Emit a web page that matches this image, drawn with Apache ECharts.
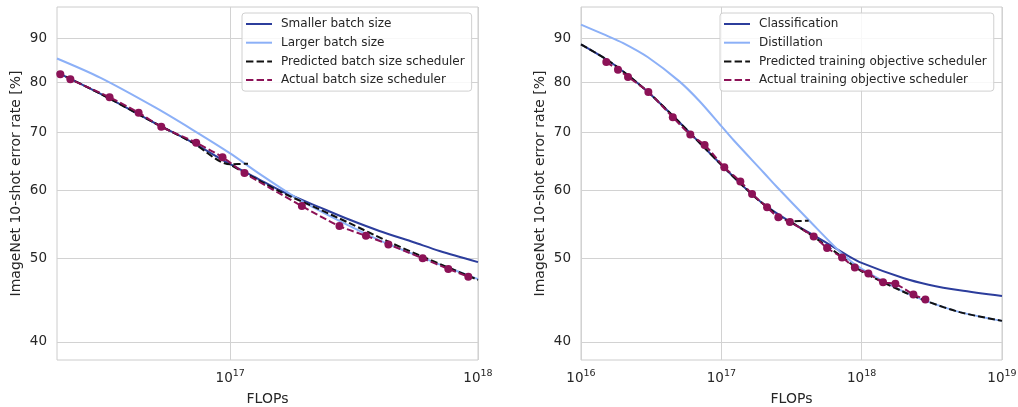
<!DOCTYPE html>
<html>
<head>
<meta charset="utf-8">
<script src="https://cdn.jsdelivr.net/npm/echarts@6/dist/echarts.min.js"></script>
<style>html,body{margin:0;padding:0;background:#fff}#c{width:1018px;height:407px}</style>
</head>
<body>
<div id="c"></div>
<script>
// ---------- Left panel: batch size ----------
const smallX = [2e16, 3e16, 5e16, 7e16, 1e17, 1.3e17, 1.6e17, 2.3e17, 3e17, 4e17, 5.5e17, 7e17, 1e18];
const smallY = [82.2, 77.6, 71.7, 68.2, 64.3, 61.8, 59.9, 57.3, 55.5, 53.8, 52.2, 51.0, 49.5];
const largeX = [2e16, 3e16, 5e16, 7e16, 1e17, 1.3e17, 1.9e17, 3e17, 4.3e17, 7e17, 1e18];
const largeY = [85.3, 81.0, 74.8, 70.6, 66.2, 62.8, 58.5, 54.6, 52.0, 49.2, 47.3];
// predicted: follows the smaller-batch curve, hops across at the switch, then continues
const predBatchX1 = [2e16, 3e16, 5e16, 7e16, 1e17, 1.18e17];
const predBatchY1 = [82.2, 77.6, 71.7, 68.2, 64.3, 64.4];
const predBatchX2 = [1.02e17, 1.3e17, 1.6e17, 2.2e17, 3e17, 4.4e17, 6e17, 1e18];
const predBatchY2 = [64.0, 61.6, 59.7, 57.3, 55.0, 52.2, 50.2, 47.2];
const actBatchLineStartX = 2e16, actBatchLineStartY = 82.1;
const actBatchX = [2.063e16, 2.265e16, 3.26e16, 4.27e16, 5.27e16, 7.29e16, 9.31e16, 1.142e17, 1.946e17, 2.76e17, 3.53e17, 4.35e17, 5.98e17, 7.59e17, 9.14e17];
const actBatchY = [81.8, 80.7, 76.9, 73.8, 71.1, 68.1, 65.5, 62.8, 57.5, 54.5, 53.1, 51.9, 50.0, 48.6, 47.6];

// ---------- Right panel: training objective ----------
const clsX = [1e16, 1.5e16, 2e16, 3e16, 5e16, 7e16, 1e17, 1.5e17, 2e17, 3e17, 5e17, 7.9e17, 1e18, 2e18, 3e18, 5e18, 1e19];
const clsY = [88.6, 85.2, 82.4, 78.0, 72.0, 68.1, 64.2, 60.2, 57.8, 55.3, 52.7, 50.4, 49.4, 47.4, 46.6, 45.9, 45.2];
const distX = [1e16, 1.5e16, 2e16, 3e16, 5e16, 7e16, 1e17, 1.22e17, 2e17, 2.49e17, 4.19e17, 7.45e17, 1e18, 2e18, 3e18, 5e18, 1e19];
const distY = [93.4, 90.8, 88.9, 85.6, 80.3, 76.1, 71.2, 68.6, 62.9, 60.5, 55.4, 50.4, 48.6, 45.7, 44.5, 43.3, 42.3];
const predObjX1 = [1e16, 1.5e16, 2e16, 3e16, 5e16, 7e16, 1e17, 1.5e17, 2e17, 3.15e17, 4.19e17];
const predObjY1 = [88.6, 85.2, 82.4, 78.0, 72.0, 68.1, 64.2, 60.2, 57.8, 55.2, 55.3];
const predObjX2 = [3.2e17, 5e17, 7e17, 1e18, 2e18, 3e18, 5e18, 1e19];
const predObjY2 = [55.0, 52.4, 50.4, 48.3, 45.7, 44.5, 43.3, 42.3];
const actObjX = [1.515e16, 1.835e16, 2.163e16, 3.02e16, 4.51e16, 6.01e16, 7.6e16, 1.05e17, 1.366e17, 1.655e17, 2.118e17, 2.548e17, 3.08e17, 4.55e17, 5.67e17, 7.25e17, 8.94e17, 1.116e18, 1.42e18, 1.738e18, 2.337e18, 2.845e18];
const actObjY = [84.5, 82.8, 81.2, 78.0, 72.9, 69.6, 67.7, 63.8, 61.4, 59.4, 57.3, 55.8, 55.1, 53.0, 51.4, 50.1, 48.8, 48.0, 46.9, 46.7, 45.4, 44.8];

// ---------- Axes ----------
const yTicks = [40, 50, 60, 70, 80, 90];
const yMin = 38.1, yMax = 97.9;
const leftXTicks = [1e17, 1e18];
const rightXTicks = [1e16, 1e17, 1e18, 1e19];
const leftXRange = [2e16, 1.0000001e18];
const rightXRange = [1e16, 1.0000001e19];
const yTitle = 'ImageNet 10-shot error rate [%]';
const xTitle = 'FLOPs';

const zip = (xs, ys) => xs.map((x, i) => [x, ys[i]]);

const C_DARK = '#2c3d9c', C_LIGHT = '#8cb0f7', C_BLACK = '#111111', C_PURP = '#8c1257';
const TXT = '#262626', GRIDC = '#d2d2d2';
const FONT = 'DejaVu Sans';
const ICON_SOLID = 'path://M0,0H26V2H0Z';
const ICON_DASH = 'path://M0,0H7.4V2H0Z M10.6,0H18V2H10.6Z M21.2,0H26V2H21.2Z';

function xAxis(idx, range, ticks) {
  return {
    type: 'log', logBase: 10, gridIndex: idx, min: range[0], max: range[1],
    name: xTitle, nameLocation: 'middle', nameGap: 32,
    nameTextStyle: { fontFamily: FONT, fontSize: 14, color: TXT },
    axisLine: { show: false },
    axisTick: { show: false, customValues: ticks },
    splitLine: { show: true, lineStyle: { color: GRIDC, width: 1 } },
    minorTick: { show: false }, minorSplitLine: { show: false },
    axisLabel: {
      customValues: ticks, margin: 9, showMinLabel: true, showMaxLabel: true, hideOverlap: false,
      formatter: v => '{b|10}{s|' + Math.round(Math.log10(v)) + '}',
      rich: {
        b: { fontFamily: FONT, fontSize: 13.5, color: TXT },
        s: { fontFamily: FONT, fontSize: 9.5, color: TXT, padding: [0, 0, 8, 0] }
      }
    }
  };
}
function yAxis(idx) {
  return {
    type: 'log', logBase: 10, gridIndex: idx, min: yMin, max: yMax,
    name: yTitle, nameLocation: 'middle', nameGap: 34,
    nameTextStyle: { fontFamily: FONT, fontSize: 14, color: TXT },
    axisLine: { show: false },
    axisTick: { show: false, customValues: yTicks },
    splitLine: { show: true, lineStyle: { color: GRIDC, width: 1 } },
    minorTick: { show: false }, minorSplitLine: { show: false },
    axisLabel: { customValues: yTicks, margin: 10, fontFamily: FONT, fontSize: 13.5, color: TXT,
      formatter: v => String(Math.round(v)) }
  };
}
function line(name, idx, xs, ys, color, dashed, z) {
  return {
    name, type: 'line', xAxisIndex: idx, yAxisIndex: idx, data: zip(xs, ys),
    symbol: 'none', smooth: 0.3, z,
    lineStyle: { color, width: 2, type: dashed ? [7, 3] : 'solid' },
    itemStyle: { color }, emphasis: { disabled: true }, animation: false
  };
}
function dots(name, idx, xs, ys) {
  return {
    name, type: 'scatter', xAxisIndex: idx, yAxisIndex: idx, data: zip(xs, ys),
    symbol: 'circle', symbolSize: 8, z: 10,
    itemStyle: { color: C_PURP, opacity: 1 }, emphasis: { disabled: true }, animation: false
  };
}
function legend(left, names) {
  return {
    left, top: 13, orient: 'vertical',
    data: names.map((n, i) => ({ name: n, icon: i < 2 ? ICON_SOLID : ICON_DASH })),
    itemWidth: 26, itemHeight: 2, itemGap: 4.7, padding: [4, 7, 4, 4],
    backgroundColor: 'rgba(255,255,255,0.85)', borderColor: '#d0d0d0', borderWidth: 1, borderRadius: 3,
    itemStyle: { borderWidth: 0 },
    textStyle: { fontFamily: FONT, fontSize: 12, lineHeight: 14, color: TXT, padding: [0, 0, 0, 4] },
    selectedMode: false
  };
}

const chart = echarts.init(document.getElementById('c'), null, { renderer: 'canvas' });
chart.setOption({
  animation: false,
  backgroundColor: '#fff',
  grid: [
    { left: 57, top: 7, width: 421, height: 353, outerBoundsMode: 'none', containLabel: false, show: true, borderColor: '#cccccc', borderWidth: 1, backgroundColor: 'transparent' },
    { left: 581, top: 7, width: 421, height: 353, outerBoundsMode: 'none', containLabel: false, show: true, borderColor: '#cccccc', borderWidth: 1, backgroundColor: 'transparent' }
  ],
  xAxis: [xAxis(0, leftXRange, leftXTicks), xAxis(1, rightXRange, rightXTicks)],
  yAxis: [yAxis(0), yAxis(1)],
  legend: [
    legend(242, ['Smaller batch size', 'Larger batch size', 'Predicted batch size scheduler', 'Actual batch size scheduler']),
    legend(720, ['Classification', 'Distillation', 'Predicted training objective scheduler', 'Actual training objective scheduler'])
  ],
  series: [
    line('Smaller batch size', 0, smallX, smallY, C_DARK, false, 2),
    line('Larger batch size', 0, largeX, largeY, C_LIGHT, false, 3),
    line('Predicted batch size scheduler', 0, predBatchX1, predBatchY1, C_BLACK, true, 4),
    line('Predicted batch size scheduler', 0, predBatchX2, predBatchY2, C_BLACK, true, 4),
    line('Actual batch size scheduler', 0, [actBatchLineStartX].concat(actBatchX), [actBatchLineStartY].concat(actBatchY), C_PURP, true, 5),
    dots('batch points', 0, actBatchX, actBatchY),
    line('Classification', 1, clsX, clsY, C_DARK, false, 2),
    line('Distillation', 1, distX, distY, C_LIGHT, false, 3),
    line('Predicted training objective scheduler', 1, predObjX1, predObjY1, C_BLACK, true, 4),
    line('Predicted training objective scheduler', 1, predObjX2, predObjY2, C_BLACK, true, 4),
    line('Actual training objective scheduler', 1, actObjX, actObjY, C_PURP, true, 5),
    dots('objective points', 1, actObjX, actObjY)
  ]
});
</script>
</body>
</html>
